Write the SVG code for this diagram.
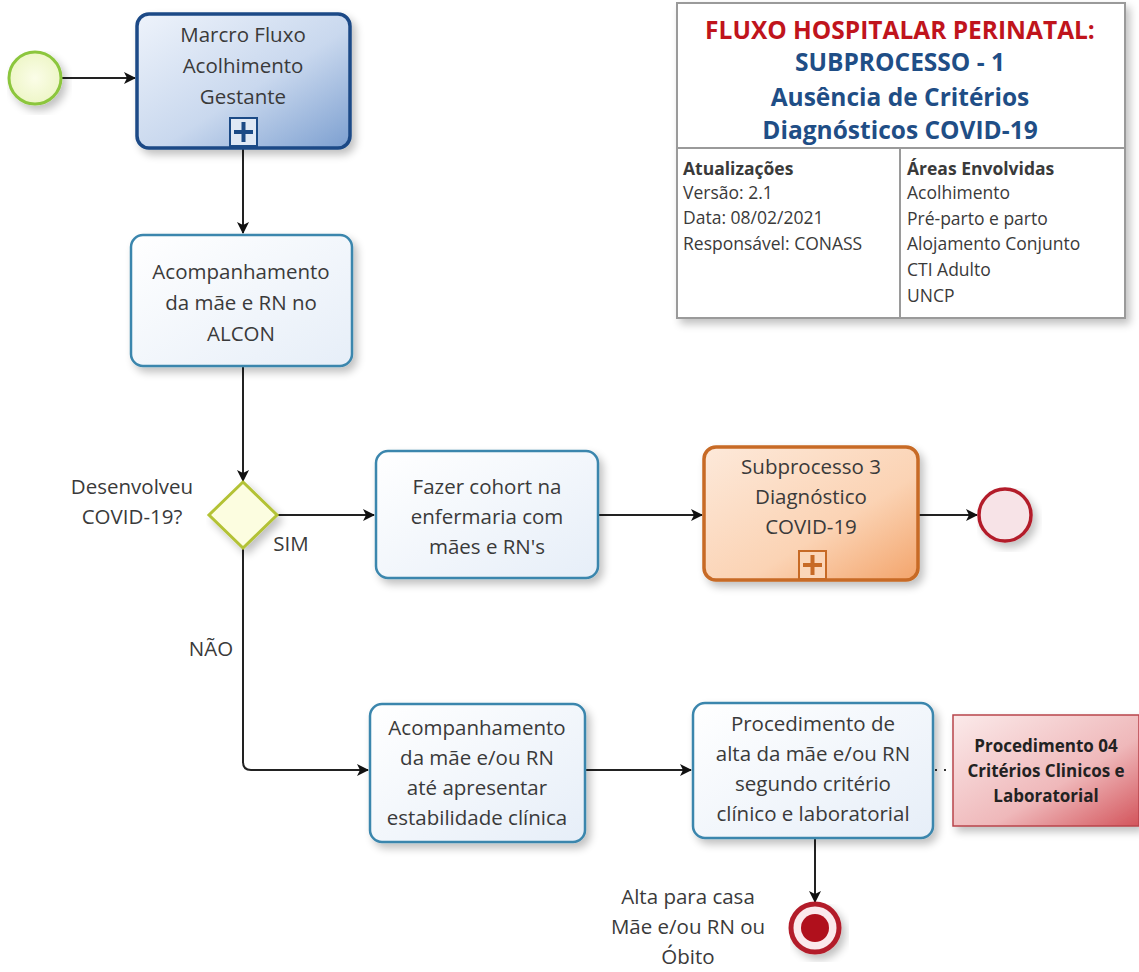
<svg xmlns="http://www.w3.org/2000/svg" width="1139" height="972" viewBox="0 0 1139 972">
<defs>
<style>
.t{font-family:"Open Sans","Noto Sans","DejaVu Sans",sans-serif;font-size:20.5px;fill:#3a3a3a;text-anchor:middle}
.h{font-family:"Open Sans","Noto Sans",sans-serif;font-weight:bold;text-anchor:middle}
.s{font-family:"Open Sans","Noto Sans",sans-serif;font-size:17.5px;fill:#3a3a3a}
.c{fill:none;stroke:#222;stroke-width:2}
.task{fill:url(#gTask);stroke:#3a86ad;stroke-width:2.5}
</style>
<linearGradient id="gBlue" x1="0" y1="0" x2="1" y2="1"><stop offset="0" stop-color="#eef3fb"/><stop offset="0.55" stop-color="#c9d8ee"/><stop offset="1" stop-color="#7c9fd0"/></linearGradient>
<linearGradient id="gTask" x1="0" y1="0" x2="1" y2="1"><stop offset="0" stop-color="#ffffff"/><stop offset="1" stop-color="#e6eef8"/></linearGradient>
<linearGradient id="gOrange" x1="0" y1="0" x2="1" y2="1"><stop offset="0" stop-color="#fde9da"/><stop offset="0.6" stop-color="#fbd3b4"/><stop offset="1" stop-color="#f3a46b"/></linearGradient>
<linearGradient id="gRed" x1="0" y1="0" x2="1" y2="1"><stop offset="0" stop-color="#fbeaea"/><stop offset="0.6" stop-color="#efb8ba"/><stop offset="1" stop-color="#d3545b"/></linearGradient>
<radialGradient id="gStart"><stop offset="0" stop-color="#fbfde8"/><stop offset="1" stop-color="#eef6c8"/></radialGradient>
<filter id="sh" x="-10%" y="-10%" width="130%" height="130%"><feGaussianBlur in="SourceAlpha" stdDeviation="4"/><feOffset dx="4" dy="5"/><feComponentTransfer><feFuncA type="linear" slope="0.25"/></feComponentTransfer><feMerge><feMergeNode/><feMergeNode in="SourceGraphic"/></feMerge></filter>
<marker id="ar" viewBox="0 0 12 12" refX="11" refY="6" markerWidth="12" markerHeight="12" markerUnits="userSpaceOnUse" orient="auto"><path d="M0,0 L12,6 L0,12 L3,6 Z" fill="#111"/></marker>
</defs>

<g id="connectors">
<line class="c" x1="62" y1="78" x2="135" y2="78" marker-end="url(#ar)"/>
<line class="c" x1="243" y1="148" x2="243" y2="233" marker-end="url(#ar)"/>
<line class="c" x1="243" y1="366" x2="243" y2="481" marker-end="url(#ar)"/>
<line class="c" x1="277" y1="515" x2="374" y2="515" marker-end="url(#ar)"/>
<line class="c" x1="598" y1="515" x2="702" y2="515" marker-end="url(#ar)"/>
<line class="c" x1="918" y1="515" x2="977" y2="515" marker-end="url(#ar)"/>
<path class="c" d="M243,548 L243,762 Q243,770 251,770 L368,770" marker-end="url(#ar)"/>
<line class="c" x1="585" y1="770" x2="691" y2="770" stroke="#888" marker-end="url(#ar)"/>
<line x1="935" y1="770" x2="952" y2="770" stroke="#333" stroke-width="2" stroke-dasharray="2,7"/>
<line class="c" x1="815" y1="838" x2="815" y2="902" marker-end="url(#ar)"/>
</g>

<g id="start">
<circle cx="35" cy="78" r="26" fill="url(#gStart)" stroke="#8cc63e" stroke-width="3" filter="url(#sh)"/>
</g>

<g id="macro">
<rect x="137" y="14" width="213" height="134" rx="12" fill="url(#gBlue)" stroke="#1b4a86" stroke-width="3.5" filter="url(#sh)"/>
<text class="t" x="243" y="42">Marcro Fluxo</text>
<text class="t" x="243" y="73">Acolhimento</text>
<text class="t" x="243" y="104">Gestante</text>
<rect x="230" y="118" width="27" height="28" fill="#dfe8f5" stroke="#1b4a86" stroke-width="2"/>
<path d="M243.5,122 V142 M234,132 H253" stroke="#1b4a86" stroke-width="4"/>
</g>

<g id="alcon">
<rect x="131" y="235" width="221" height="131" rx="12" class="task" filter="url(#sh)"/>
<text class="t" x="241" y="279">Acompanhamento</text>
<text class="t" x="241" y="310">da mãe e RN no</text>
<text class="t" x="241" y="341">ALCON</text>
</g>

<g id="gateway">
<polygon points="243,482 277,515 243,548 209,515" fill="#fcfde0" stroke="#b3c234" stroke-width="3" filter="url(#sh)"/>
<text class="t" x="132" y="494">Desenvolveu</text>
<text class="t" x="132" y="524">COVID-19?</text>
<text class="t" x="291" y="551">SIM</text>
<text class="t" x="211" y="656">NÃO</text>
</g>

<g id="cohort">
<rect x="376" y="451" width="222" height="127" rx="12" class="task" filter="url(#sh)"/>
<text class="t" x="487" y="494">Fazer cohort na</text>
<text class="t" x="487" y="524">enfermaria com</text>
<text class="t" x="487" y="554">mães e RN's</text>
</g>

<g id="sub3">
<rect x="704" y="447" width="214" height="133" rx="12" fill="url(#gOrange)" stroke="#c76a25" stroke-width="3.5" filter="url(#sh)"/>
<text class="t" x="811" y="474">Subprocesso 3</text>
<text class="t" x="811" y="504">Diagnóstico</text>
<text class="t" x="811" y="534">COVID-19</text>
<rect x="799" y="551" width="27" height="28" fill="#fbd6b8" stroke="#c76a25" stroke-width="2"/>
<path d="M812.5,555 V575 M803,565 H822" stroke="#c76a25" stroke-width="4"/>
</g>

<g id="end1">
<circle cx="1005" cy="515" r="26" fill="#f7e3e7" stroke="#b31f2c" stroke-width="3.5" filter="url(#sh)"/>
</g>

<g id="estab">
<rect x="370" y="704" width="215" height="138" rx="12" class="task" filter="url(#sh)"/>
<text class="t" x="477" y="735">Acompanhamento</text>
<text class="t" x="477" y="765">da mãe e/ou RN</text>
<text class="t" x="477" y="795">até apresentar</text>
<text class="t" x="477" y="825">estabilidade clínica</text>
</g>

<g id="alta">
<rect x="693" y="703" width="240" height="135" rx="12" class="task" filter="url(#sh)"/>
<text class="t" x="813" y="731">Procedimento de</text>
<text class="t" x="813" y="761">alta da mãe e/ou RN</text>
<text class="t" x="813" y="791">segundo critério</text>
<text class="t" x="813" y="821">clínico e laboratorial</text>
</g>

<g id="proc04">
<rect x="953" y="715" width="186" height="111" fill="url(#gRed)" stroke="#b8454b" stroke-width="1.5" filter="url(#sh)"/>
<text class="h" x="1046" y="752" font-size="17" fill="#222">Procedimento 04</text>
<text class="h" x="1046" y="777" font-size="17" fill="#222">Critérios Clinicos e</text>
<text class="h" x="1046" y="802" font-size="17" fill="#222">Laboratorial</text>
</g>

<g id="end2">
<circle cx="815" cy="928" r="24" fill="#fbe9ec" stroke="#b31f2c" stroke-width="5" filter="url(#sh)"/>
<circle cx="815" cy="928" r="14" fill="#b0101c"/>
<text class="t" x="688" y="904">Alta para casa</text>
<text class="t" x="688" y="934">Mãe e/ou RN ou</text>
<text class="t" x="688" y="964">Óbito</text>
</g>

<g id="header">
<rect x="677" y="3" width="448" height="315" fill="#fff" stroke="#9a9a9a" stroke-width="2" filter="url(#sh)"/>
<line x1="677" y1="148" x2="1125" y2="148" stroke="#9a9a9a" stroke-width="2"/>
<line x1="900" y1="148" x2="900" y2="318" stroke="#9a9a9a" stroke-width="2"/>
<text class="h" x="900" y="39" font-size="24.5" fill="#c0141c">FLUXO HOSPITALAR PERINATAL:</text>
<text class="h" x="900" y="71" font-size="24.5" fill="#1f4e86">SUBPROCESSO - 1</text>
<text class="h" x="900" y="106" font-size="24.5" fill="#1f4e86">Ausência de Critérios</text>
<text class="h" x="900" y="139" font-size="24.5" fill="#1f4e86">Diagnósticos COVID-19</text>
<text class="s" x="683" y="175" font-weight="bold" fill="#222">Atualizações</text>
<text class="s" x="683" y="199">Versão: 2.1</text>
<text class="s" x="683" y="224">Data: 08/02/2021</text>
<text class="s" x="683" y="250">Responsável: CONASS</text>
<text class="s" x="907" y="175" font-weight="bold" fill="#222">Áreas Envolvidas</text>
<text class="s" x="907" y="199">Acolhimento</text>
<text class="s" x="907" y="225">Pré-parto e parto</text>
<text class="s" x="907" y="250">Alojamento Conjunto</text>
<text class="s" x="907" y="276">CTI Adulto</text>
<text class="s" x="907" y="302">UNCP</text>
</g>
</svg>
